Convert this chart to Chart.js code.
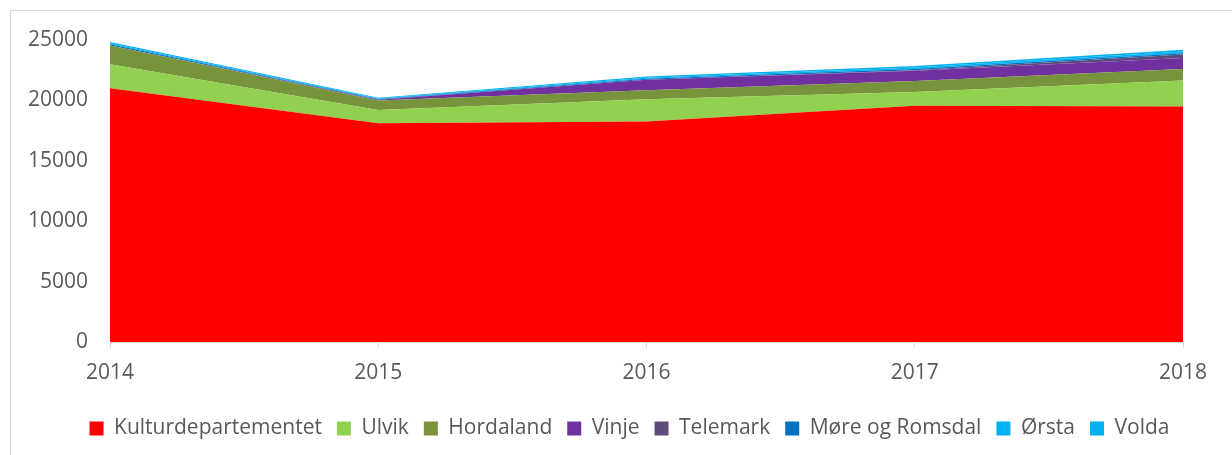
<!DOCTYPE html>
<html>
<head>
<meta charset="utf-8">
<script src="https://cdn.jsdelivr.net/npm/chart.js@4/dist/chart.umd.min.js"></script>
<style>
  html, body { margin: 0; padding: 0; background: #fff; overflow: hidden; }
  #frame { position: absolute; left: 10px; top: 10px; width: 1400px; height: 600px; border: 1px solid #d9d9d9; box-sizing: border-box; }
  #wrap { position: absolute; left: 0; top: 0; width: 1232px; height: 455px; }
</style>
</head>
<body>
<div id="frame"></div>
<div id="wrap"><canvas id="c" width="1232" height="455"></canvas></div>
<script>
const years = ['2014', '2015', '2016', '2017', '2018'];
const seriesNames = ['Kulturdepartementet', 'Ulvik', 'Hordaland', 'Vinje', 'Telemark', 'Møre og Romsdal', 'Ørsta', 'Volda'];
const kulturdepartementet = [21000, 18100, 18250, 19550, 19500];
const ulvik = [2000, 1100, 1850, 1150, 2150];
const hordaland = [1550, 800, 750, 900, 950];
const vinje = [0, 50, 850, 850, 900];
const telemark = [0, 0, 0, 50, 300];
const moreOgRomsdal = [100, 50, 100, 100, 100];
const orsta = [80, 60, 80, 120, 150];
const volda = [100, 60, 100, 120, 150];
const yTicks = [0, 5000, 10000, 15000, 20000, 25000];
const seriesColors = ['#FF0000', '#92D050', '#77933C', '#7030A0', '#604A7B', '#0070C0', '#00B0F0', '#00B0F0'];

const seriesValues = [kulturdepartementet, ulvik, hordaland, vinje, telemark, moreOgRomsdal, orsta, volda];
const FONT = 'Open Sans';
const TXT = '#595959';

const datasets = seriesNames.map((name, i) => ({
  label: name,
  data: seriesValues[i],
  backgroundColor: seriesColors[i],
  borderColor: seriesColors[i],
  borderWidth: 0,
  pointRadius: 0,
  pointHoverRadius: 0,
  tension: 0,
  fill: i === 0 ? 'origin' : '-1'
}));

const legendShift = {
  id: 'legendShift',
  afterLayout(chart) {
    const lg = chart.legend;
    if (lg) { lg.left += 38; lg.right += 38; }
  }
};

new Chart(document.getElementById('c'), {
  type: 'line',
  data: { labels: years, datasets },
  plugins: [legendShift],
  options: {
    responsive: false,
    animation: false,
    devicePixelRatio: 1,
    layout: { padding: { left: 0, right: 49, top: 40, bottom: 6 } },
    plugins: {
      tooltip: { enabled: false },
      legend: {
        position: 'bottom',
        labels: {
          boxWidth: 14,
          boxHeight: 14,
          padding: 15,
          color: TXT,
          font: { family: FONT, size: 21 }
        }
      }
    },
    scales: {
      x: {
        offset: false,
        grid: { display: true, drawOnChartArea: false, drawTicks: true, tickLength: 6, color: '#d9d9d9' },
        border: { display: true, color: '#d9d9d9', width: 1 },
        ticks: { color: TXT, font: { family: FONT, size: 21 }, padding: 12, maxRotation: 0 },
        afterFit: s => { s.height = 61; }
      },
      y: {
        stacked: true,
        min: 0,
        max: 25000,
        afterBuildTicks: s => { s.ticks = yTicks.map(v => ({ value: v })); },
        grid: { display: false, drawTicks: false },
        border: { display: false },
        ticks: { color: TXT, font: { family: FONT, size: 21 }, padding: 22, callback: v => String(v) },
        afterFit: s => { s.width = 110; }
      }
    }
  }
});
</script>
</body>
</html>
